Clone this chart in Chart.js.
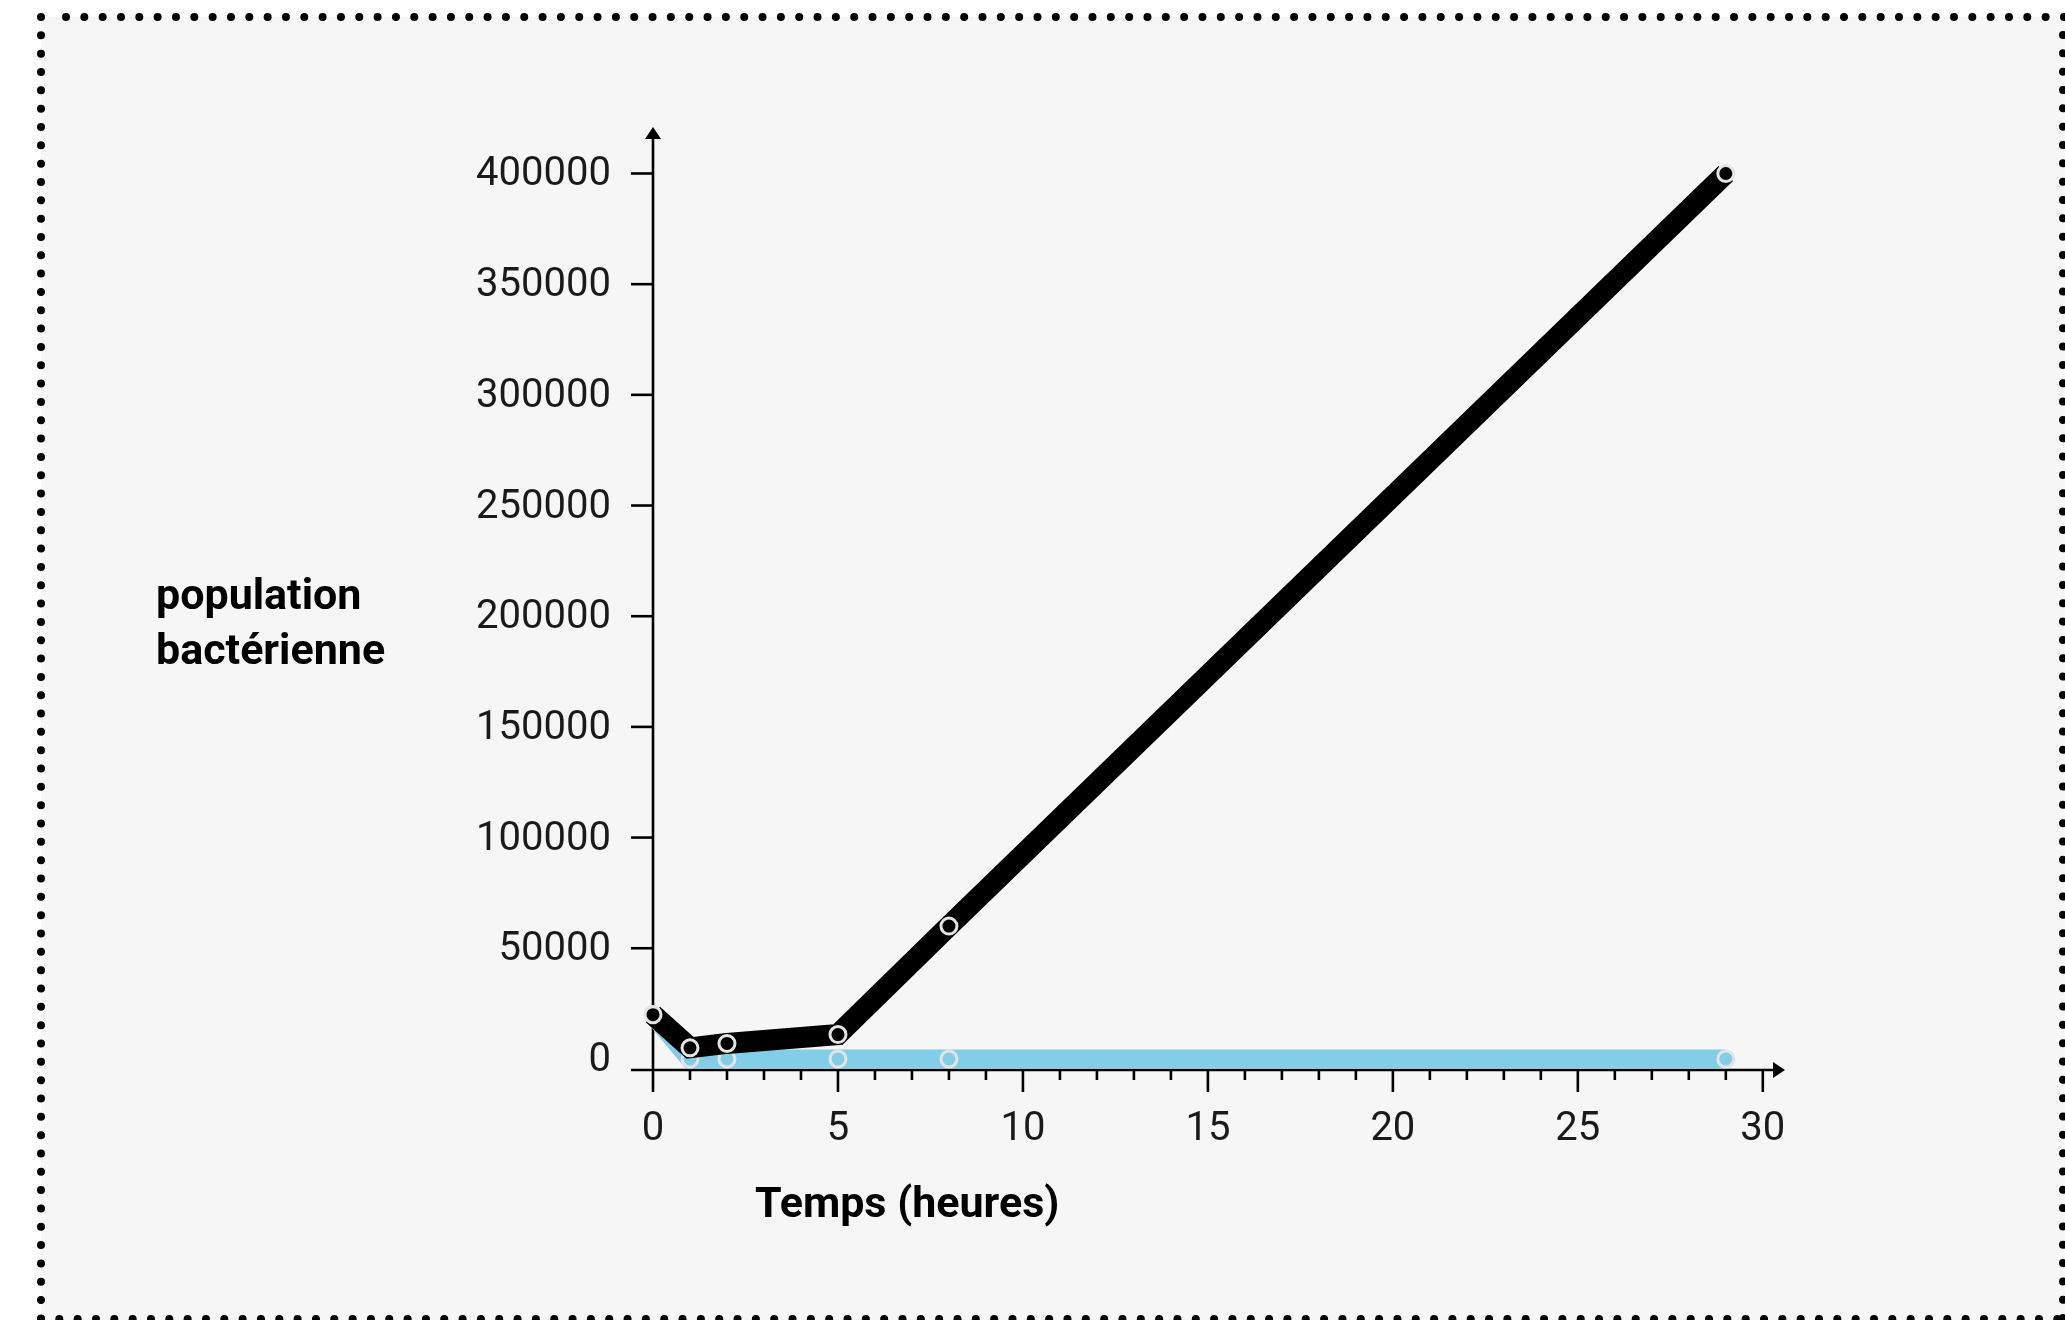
<!DOCTYPE html>
<html>
<head>
<meta charset="utf-8">
<script src="https://cdn.jsdelivr.net/npm/chart.js@4.4.1/dist/chart.umd.min.js"></script>
<style>
  html, body { margin: 0; padding: 0; background: #fff; }
  #wrap { width: 2065px; height: 1320px; }
</style>
</head>
<body>
<div id="wrap"><canvas id="bacteriaChart" width="2065" height="1320"></canvas></div>
<script>
// Data
const hours = [0, 1, 2, 5, 8, 29];
const populationBlack = [20000, 5000, 7000, 11000, 60000, 400000];
const populationBlue = [20000, 0, 0, 0, 0, 0];
const yTickValues = [0, 50000, 100000, 150000, 200000, 250000, 300000, 350000, 400000];
const xTickValues = [0, 5, 10, 15, 20, 25, 30];

const xTitle = 'Temps (heures)';
const yTitleLines = ['population', 'bactérienne'];

const toPoints = (xs, ys) => xs.map((x, i) => ({ x: x, y: ys[i] }));

// Frame, axes with arrows, tick marks and axis titles
const axesPlugin = {
    id: 'axesPlugin',
    beforeDraw(chart) {
        const ctx = chart.ctx;
        const w = chart.width, h = chart.height;
        ctx.save();
        ctx.fillStyle = '#ffffff';
        ctx.fillRect(0, 0, w, h);
        ctx.fillStyle = '#f6f6f6';
        ctx.fillRect(41, 17, w, h);

        // dotted frame
        ctx.strokeStyle = '#000';
        ctx.lineWidth = 8;
        ctx.lineCap = 'round';
        ctx.setLineDash([0, 18.33]);
        const seg = (x1, y1, x2, y2) => {
            ctx.beginPath();
            ctx.moveTo(x1, y1);
            ctx.lineTo(x2, y2);
            ctx.stroke();
        };
        seg(41, 17, 41, h + 4);
        seg(66, 17, w + 4, 17);
        seg(41, 1319, w + 4, 1319);
        seg(2063, 35, 2063, h + 4);
        ctx.restore();
    },
    beforeDatasetsDraw(chart) {
        const ctx = chart.ctx;
        const xs = chart.scales.x, ys = chart.scales.y;
        const area = chart.chartArea;
        const x0 = xs.getPixelForValue(0);
        const yAxis = area.bottom;
        ctx.save();
        ctx.strokeStyle = '#000';
        ctx.fillStyle = '#000';
        ctx.lineWidth = 2.6;
        ctx.lineCap = 'butt';

        // y axis line
        ctx.beginPath();
        ctx.moveTo(x0, yAxis + 22);
        ctx.lineTo(x0, area.top + 10);
        ctx.stroke();
        // x axis line
        ctx.beginPath();
        ctx.moveTo(x0 - 22, yAxis);
        ctx.lineTo(area.right - 10, yAxis);
        ctx.stroke();

        // arrows
        ctx.beginPath();
        ctx.moveTo(x0, area.top);
        ctx.lineTo(x0 - 8, area.top + 12);
        ctx.lineTo(x0 + 8, area.top + 12);
        ctx.closePath();
        ctx.fill();
        ctx.beginPath();
        ctx.moveTo(area.right, yAxis);
        ctx.lineTo(area.right - 12, yAxis - 8);
        ctx.lineTo(area.right - 12, yAxis + 8);
        ctx.closePath();
        ctx.fill();

        // y tick marks
        yTickValues.forEach(v => {
            if (v === 0) return;
            const py = ys.getPixelForValue(v);
            ctx.beginPath();
            ctx.moveTo(x0 - 22, py);
            ctx.lineTo(x0, py);
            ctx.stroke();
        });

        // x tick marks: long every 5 h, short every hour
        for (let t = 1; t <= 30; t++) {
            const px = xs.getPixelForValue(t);
            ctx.beginPath();
            ctx.moveTo(px, yAxis);
            ctx.lineTo(px, yAxis + (t % 5 === 0 ? 22 : 10));
            ctx.stroke();
        }

        // axis titles
        ctx.font = 'bold 43px Roboto';
        ctx.textAlign = 'left';
        ctx.textBaseline = 'middle';
        ctx.fillText(xTitle, 755, 1206);
        ctx.fillText(yTitleLines[0], 156, 598);
        ctx.fillText(yTitleLines[1], 156, 653);
        ctx.restore();
    }
};

const tickFont = { family: 'Roboto', size: 40, weight: 400 };

new Chart(document.getElementById('bacteriaChart'), {
    type: 'line',
    data: {
        datasets: [{
            label: 'population (noir)',
            data: toPoints(hours, populationBlack),
            borderColor: '#000000',
            backgroundColor: '#000000',
            borderWidth: 21,
            pointRadius: 8,
            pointBorderWidth: 3,
            pointBorderColor: '#e4e4e4',
            pointBackgroundColor: '#000000',
            tension: 0,
            clip: false
        }, {
            label: 'population (bleu)',
            data: toPoints(hours, populationBlue),
            borderColor: '#82cde8',
            backgroundColor: '#82cde8',
            borderWidth: 19,
            pointRadius: 8,
            pointBorderWidth: 3,
            pointBorderColor: '#e4e4e4',
            pointBackgroundColor: '#82cde8',
            tension: 0,
            clip: false
        }]
    },
    options: {
        responsive: false,
        animation: false,
        devicePixelRatio: 1,
        layout: { padding: { top: 127, right: 280, left: 0, bottom: 0 } },
        plugins: {
            legend: { display: false },
            tooltip: { enabled: false }
        },
        scales: {
            x: {
                type: 'linear',
                min: 0,
                max: 30.6,
                afterBuildTicks: s => { s.ticks = xTickValues.map(v => ({ value: v })); },
                afterFit: s => { s.height = 250; },
                grid: { display: false },
                border: { display: false },
                ticks: {
                    font: tickFont,
                    color: '#1a1a1a',
                    padding: 28,
                    maxRotation: 0,
                    autoSkip: false,
                    callback: v => String(v)
                }
            },
            y: {
                type: 'linear',
                min: -5000,
                max: 421000,
                afterBuildTicks: s => { s.ticks = yTickValues.map(v => ({ value: v })); },
                afterFit: s => { s.width = 653; },
                grid: { display: false },
                border: { display: false },
                ticks: {
                    font: tickFont,
                    color: '#1a1a1a',
                    padding: 34,
                    labelOffset: 2,
                    autoSkip: false,
                    callback: v => String(v)
                }
            }
        }
    },
    plugins: [axesPlugin]
});
</script>
</body>
</html>
